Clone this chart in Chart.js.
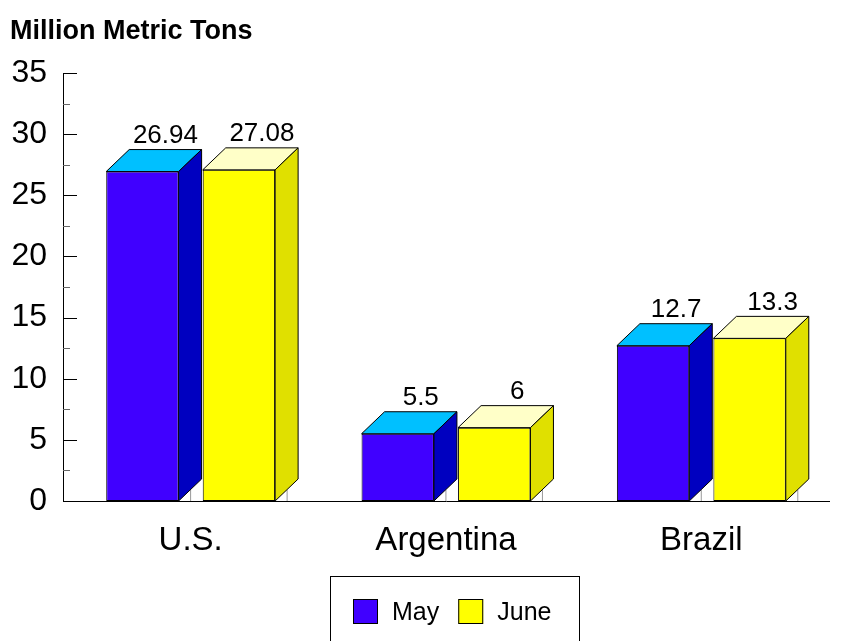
<!DOCTYPE html>
<html>
<head>
<meta charset="utf-8">
<script src="https://cdn.jsdelivr.net/npm/chart.js@4.4.1/dist/chart.umd.min.js"></script>
<style>
  body { margin: 0; background: #fff; }
  canvas { display: block; }
</style>
</head>
<body>
<canvas id="grainChart" width="843" height="641"></canvas>
<script>
const categories = ['U.S.', 'Argentina', 'Brazil'];
const seriesNames = ['May', 'June'];
const mayValues = [26.94, 5.5, 12.7];
const juneValues = [27.08, 6, 13.3];
const valueLabels = [['26.94', '5.5', '12.7'], ['27.08', '6', '13.3']];

// front / top / side colours for each series
const faceColors = [
    { front: '#4000ff', top: '#00c0ff', side: '#0000c0' },
    { front: '#ffff00', top: '#ffffc8', side: '#e0e000' }
];

const DX = 23, DY = 22;
const FONT = '"Liberation Sans", Arial, sans-serif';
Chart.defaults.font.family = FONT;
Chart.defaults.color = '#000';

// draws the top and side of each bar, plus the value label
const depthPlugin = {
    id: 'depth',
    afterDatasetsDraw(chart) {
        const ctx = chart.ctx;
        ctx.save();
        chart.data.datasets.forEach((ds, di) => {
            const meta = chart.getDatasetMeta(di);
            const col = faceColors[di];
            meta.data.forEach((bar, i) => {
                const p = bar.getProps(['x', 'y', 'width', 'base'], true);
                const l = p.x - p.width / 2, r = p.x + p.width / 2;
                const t = p.y, b = p.base;
                ctx.lineWidth = 1;
                // faint floor line behind the bar
                ctx.beginPath();
                ctx.strokeStyle = '#999';
                ctx.moveTo(r + DX / 2 + 0.5, b - DY / 2);
                ctx.lineTo(r + DX / 2 + 0.5, b);
                ctx.stroke();
                ctx.strokeStyle = '#000';
                // top
                ctx.beginPath();
                ctx.moveTo(l, t);
                ctx.lineTo(l + DX, t - DY);
                ctx.lineTo(r + DX, t - DY);
                ctx.lineTo(r, t);
                ctx.closePath();
                ctx.fillStyle = col.top;
                ctx.fill();
                ctx.stroke();
                // side
                ctx.beginPath();
                ctx.moveTo(r, t);
                ctx.lineTo(r + DX, t - DY);
                ctx.lineTo(r + DX, b - DY);
                ctx.lineTo(r, b);
                ctx.closePath();
                ctx.fillStyle = col.side;
                ctx.fill();
                ctx.stroke();
                // value
                ctx.fillStyle = '#000';
                ctx.font = '26px ' + FONT;
                ctx.textAlign = 'center';
                ctx.textBaseline = 'bottom';
                ctx.fillText(valueLabels[di][i], p.x + DX, t - DY - 1);
            });
        });
        ctx.restore();
    },
    afterDraw(chart) {
        const ctx = chart.ctx;
        const y = chart.scales.y;
        const area = chart.chartArea;
        ctx.save();
        // inward ticks on the value axis
        for (let v = 0; v <= 35; v += 2.5) {
            const py = Math.round(y.getPixelForValue(v)) + 0.5;
            const major = v % 5 === 0;
            ctx.beginPath();
            ctx.strokeStyle = major ? '#000' : '#666';
            ctx.moveTo(area.left, py);
            ctx.lineTo(area.left + (major ? 14 : 7), py);
            ctx.stroke();
        }
        // legend in a box
        const bx = 330.5, by = 576.5, bw = 249, bh = 80;
        ctx.strokeStyle = '#000';
        ctx.lineWidth = 1;
        ctx.strokeRect(bx, by, bw, bh);
        ctx.font = '25px ' + FONT;
        ctx.textBaseline = 'middle';
        ctx.textAlign = 'left';
        let x = 353;
        const cy = 611;
        seriesNames.forEach((name, i) => {
            ctx.fillStyle = faceColors[i].front;
            ctx.fillRect(x, cy - 12, 25, 25);
            ctx.strokeRect(x + 0.5, cy - 11.5, 24, 24);
            ctx.fillStyle = '#000';
            ctx.fillText(name, x + 39, cy + 2);
            x += 39 + ctx.measureText(name).width + 19;
        });
        ctx.restore();
    }
};

new Chart(document.getElementById('grainChart'), {
    type: 'bar',
    data: {
        labels: categories,
        datasets: [
            {
                label: seriesNames[0],
                data: mayValues,
                backgroundColor: faceColors[0].front,
                borderColor: '#000',
                borderWidth: 1,
                borderSkipped: false
            },
            {
                label: seriesNames[1],
                data: juneValues,
                backgroundColor: faceColors[1].front,
                borderColor: '#000',
                borderWidth: 1,
                borderSkipped: false
            }
        ]
    },
    options: {
        responsive: false,
        animation: false,
        layout: { padding: { left: 10, right: 14, top: 0, bottom: 0 } },
        categoryPercentage: 0.756,
        barPercentage: 0.75,
        plugins: {
            legend: { display: false },
            tooltip: { enabled: false },
            title: {
                display: true,
                text: 'Million Metric Tons',
                align: 'start',
                font: { size: 27, weight: 'bold' },
                padding: { top: 15.5, bottom: 25.1 }
            }
        },
        scales: {
            x: {
                grid: { display: false },
                border: { display: true, color: '#000' },
                ticks: { font: { size: 33 }, padding: 12, maxRotation: 0 },
                afterFit(scale) { scale.height = 140; }
            },
            y: {
                min: 0,
                max: 35,
                grid: { display: false, drawTicks: false },
                border: { display: true, color: '#000' },
                ticks: { stepSize: 5, font: { size: 32 }, padding: 16 },
                afterFit(scale) { scale.width = 53; }
            }
        }
    },
    plugins: [depthPlugin]
});
</script>
</body>
</html>
